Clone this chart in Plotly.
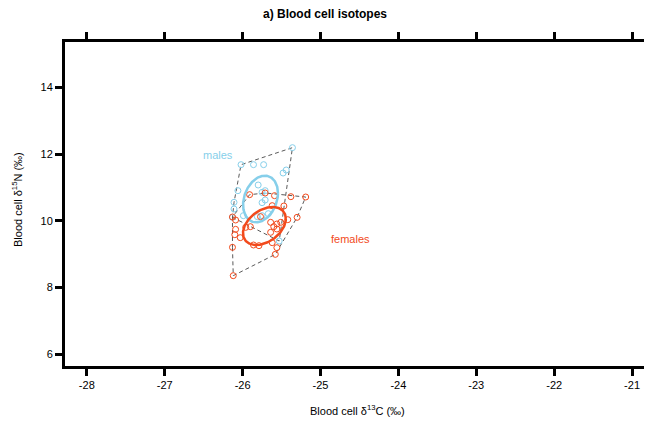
import numpy as np
import plotly.graph_objects as go

# ---- data ----
male_d13C = [-25.36, -26.02, -25.86, -25.73, -25.48, -25.44, -25.80, -26.06, -25.75, -25.71,
             -26.11, -25.75, -25.71, -26.11, -25.81, -25.75, -25.67, -25.53, -26.13, -25.99]
male_d15N = [12.19, 11.68, 11.68, 11.68, 11.43, 11.52, 11.07, 10.90, 10.85, 10.90,
             10.55, 10.54, 10.62, 10.35, 10.12, 10.15, 10.21, 9.39, 10.10, 10.15]

female_d13C = [-25.91, -25.71, -25.59, -25.38, -25.19, -25.62, -25.47, -26.13, -26.09, -25.77,
               -25.30, -25.42, -25.64, -25.56, -25.51, -25.60, -25.96, -26.09, -26.10, -26.03,
               -25.86, -25.79, -25.62, -25.56, -25.58, -26.13, -26.12, -25.64, -25.56, -25.90]
female_d15N = [10.78, 10.83, 10.75, 10.72, 10.71, 10.45, 10.44, 10.11, 10.02, 10.12,
               10.10, 10.03, 9.95, 9.90, 9.95, 9.82, 9.80, 9.74, 9.58, 9.49,
               9.27, 9.25, 9.34, 9.19, 8.99, 9.20, 8.35, 9.65, 9.75, 9.82]

# standard ellipse parameters: centre, half-extent in x and y, correlation
male_ellipse = dict(cx=-25.77, cy=10.65, sx=0.224, sy=0.70, r=0.25)
female_ellipse = dict(cx=-25.72, cy=9.84, sx=0.275, sy=0.57, r=0.38)

x_ticks = [-28, -27, -26, -25, -24, -23, -22, -21]
y_ticks = [6, 8, 10, 12, 14]

male_col = "#86cfea"
female_col = "#f24a1c"


def hull(xs, ys):
    pts = sorted(set(zip(xs, ys)))

    def cross(o, a, b):
        return (a[0] - o[0]) * (b[1] - o[1]) - (a[1] - o[1]) * (b[0] - o[0])

    lower, upper = [], []
    for p in pts:
        while len(lower) >= 2 and cross(lower[-2], lower[-1], p) <= 0:
            lower.pop()
        lower.append(p)
    for p in reversed(pts):
        while len(upper) >= 2 and cross(upper[-2], upper[-1], p) <= 0:
            upper.pop()
        upper.append(p)
    h = lower[:-1] + upper[:-1]
    h.append(h[0])
    return [p[0] for p in h], [p[1] for p in h]


def ellipse(e, n=200):
    t = np.linspace(0, 2 * np.pi, n)
    x = e["cx"] + e["sx"] * np.cos(t)
    y = e["cy"] + e["sy"] * (e["r"] * np.cos(t) + np.sqrt(1 - e["r"] ** 2) * np.sin(t))
    return x, y


fig = go.Figure()

for xs, ys in [(male_d13C, male_d15N), (female_d13C, female_d15N)]:
    hx, hy = hull(xs, ys)
    fig.add_trace(go.Scatter(x=hx, y=hy, mode="lines",
                             line=dict(color="#5a5a5a", width=1, dash="4px,3px"),
                             hoverinfo="skip", showlegend=False))

fig.add_trace(go.Scatter(x=male_d13C, y=male_d15N, mode="markers",
                         marker=dict(symbol="circle-open", size=6, color=male_col,
                                     line=dict(width=1, color=male_col)),
                         showlegend=False, name="males"))
fig.add_trace(go.Scatter(x=female_d13C, y=female_d15N, mode="markers",
                         marker=dict(symbol="circle-open", size=6, color=female_col,
                                     line=dict(width=1, color=female_col)),
                         showlegend=False, name="females"))

ex, ey = ellipse(male_ellipse)
fig.add_trace(go.Scatter(x=ex, y=ey, mode="lines", line=dict(color=male_col, width=2.5),
                         hoverinfo="skip", showlegend=False))
ex, ey = ellipse(female_ellipse)
fig.add_trace(go.Scatter(x=ex, y=ey, mode="lines", line=dict(color=female_col, width=2.5),
                         hoverinfo="skip", showlegend=False))

# invisible trace to carry the top axis
fig.add_trace(go.Scatter(x=[-25], y=[10], xaxis="x2", mode="markers",
                         marker=dict(opacity=0), hoverinfo="skip", showlegend=False))

# page has an 8px body margin: figure is drawn 8px in from the top-left corner
OFF = 8
W, H = 652 - OFF, 421 - OFF
font = "Liberation Sans, Arial, sans-serif"
fig.update_layout(
    width=W, height=H,
    margin=dict(l=65 - OFF, r=0, t=42 - OFF, b=421 - 366),
    paper_bgcolor="white", plot_bgcolor="white",
    font=dict(family=font, size=11, color="black"),
    title=dict(text="<b>a) Blood cell isotopes</b>", x=(325 - OFF) / W, xanchor="center",
               y=1 - (14 - OFF) / H, yanchor="middle", yref="container",
               font=dict(family=font, size=12, color="black")),
    xaxis=dict(range=[-28.28, -20.744], tickvals=x_ticks, ticktext=[str(v) for v in x_ticks],
               showgrid=False, zeroline=False, showline=True, linecolor="black", linewidth=3,
               ticks="outside", ticklen=7, tickwidth=3, tickcolor="black",
               tickfont=dict(size=11)),
    xaxis2=dict(overlaying="x", side="top", matches="x", tickvals=x_ticks,
                showticklabels=False, showgrid=False, zeroline=False, showline=True,
                linecolor="black", linewidth=3, ticks="outside", ticklen=7, tickwidth=3,
                tickcolor="black"),
    yaxis=dict(range=[5.64, 15.36], tickvals=y_ticks, ticktext=[str(v) for v in y_ticks],
               showgrid=False, zeroline=False, showline=True, linecolor="black", linewidth=3,
               ticks="outside", ticklen=7, tickwidth=3, tickcolor="black",
               tickfont=dict(size=11)),
    shapes=[dict(type="line", xref="paper", yref="paper", x0=0.999, x1=0.999, y0=0, y1=1,
                 line=dict(color="#d0d0d0", width=1))],
    annotations=[
        dict(text="Blood cell δ<sup>13</sup>C (‰)", xref="paper", yref="paper",
             x=(357 - 65) / 587, y=-(410 - 366) / 324, xanchor="center", yanchor="middle",
             showarrow=False, font=dict(size=11)),
        dict(text="Blood cell δ<sup>15</sup>N (‰)", xref="paper", yref="paper",
             x=(17 - 65) / 587, y=(366 - 200) / 324, xanchor="center", yanchor="middle",
             textangle=-90, showarrow=False, font=dict(size=11)),
        dict(text="males", x=-26.31, y=11.98, showarrow=False,
             font=dict(size=11, color=male_col)),
        dict(text="females", x=-24.62, y=9.46, showarrow=False,
             font=dict(size=11, color=female_col)),
    ],
)

fig.write_html("out.html")
